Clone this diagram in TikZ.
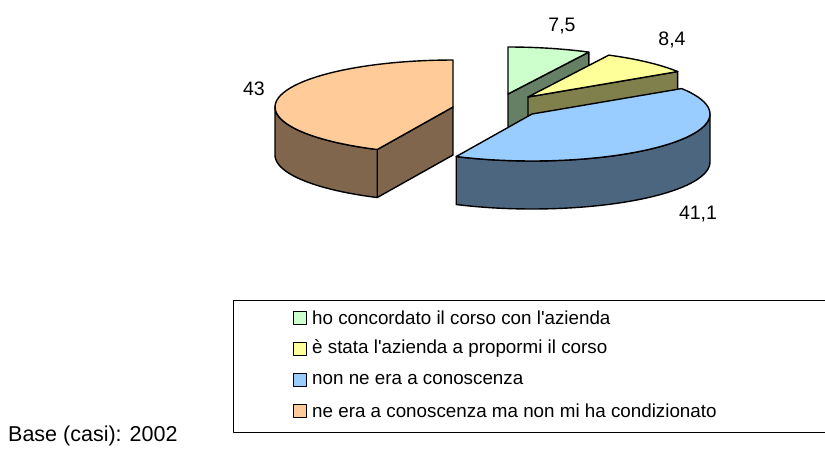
\documentclass[tikz,border=0pt]{standalone}
\usepackage{fontspec}
\newfontfamily\chartfont{Liberation Sans}
\definecolor{greentop}{RGB}{204,255,204}
\definecolor{greenside}{RGB}{102,128,102}
\definecolor{yellowtop}{RGB}{255,255,153}
\definecolor{yellowside}{RGB}{128,128,77}
\definecolor{bluetop}{RGB}{153,204,255}
\definecolor{blueside}{RGB}{77,102,128}
\definecolor{orangetop}{RGB}{255,204,153}
\definecolor{orangeside}{RGB}{128,102,77}
\newcommand{\pieA}{178}
\newcommand{\pieB}{47}
\newcommand{\pieH}{48}

\begin{document}
\begin{tikzpicture}[x=1pt,y=-1pt,line cap=round,line join=round,
  slice/.style={draw=black,line width=1.4pt},
  lbl/.style={font=\chartfont\fontsize{19.5}{22}\selectfont,inner sep=0pt},
  keytext/.style={font=\chartfont\fontsize{18.8}{22}\selectfont,inner sep=0pt},
  keybox/.style={draw=black,line width=1pt,minimum size=13pt,inner sep=0pt}]
\useasboundingbox (0,0) rectangle (825,448);

% green slice 0..27
\begin{scope}[shift={(508,94)}]
  \filldraw[slice,fill=greenside] (0,0) -- ({\pieA*sin(27)},{-\pieB*cos(27)}) -- ++(0,\pieH) -- (0,\pieH) -- cycle;
  \filldraw[slice,fill=greentop] (0,0) -- plot[domain=0:27,samples=20] ({\pieA*sin(\x)},{-\pieB*cos(\x)}) -- cycle;
\end{scope}

% yellow slice 27..57.24
\begin{scope}[shift={(528,97)}]
  \filldraw[slice,fill=yellowside] (0,0) -- ({\pieA*sin(57.24)},{-\pieB*cos(57.24)}) -- ++(0,\pieH) -- (0,\pieH) -- cycle;
  \filldraw[slice,fill=yellowtop] (0,0) -- plot[domain=27:57.24,samples=20] ({\pieA*sin(\x)},{-\pieB*cos(\x)}) -- cycle;
\end{scope}

% blue slice 57.24..205.2
\begin{scope}[shift={(532,114)}]
  \filldraw[slice,fill=blueside] plot[domain=90:205.2,samples=40] ({\pieA*sin(\x)},{-\pieB*cos(\x)})
    -- plot[domain=205.2:90,samples=40] ({\pieA*sin(\x)},{\pieH-\pieB*cos(\x)}) -- cycle;
  \filldraw[slice,fill=bluetop] (0,0) -- plot[domain=57.24:205.2,samples=50] ({\pieA*sin(\x)},{-\pieB*cos(\x)}) -- cycle;
\end{scope}

% orange slice 205.2..360
\begin{scope}[shift={(453,107)}]
  \filldraw[slice,fill=orangeside] (0,0) -- ({\pieA*sin(205.2)},{-\pieB*cos(205.2)}) -- ++(0,\pieH) -- (0,\pieH) -- cycle;
  \filldraw[slice,fill=orangeside] plot[domain=205.2:270,samples=30] ({\pieA*sin(\x)},{-\pieB*cos(\x)})
    -- plot[domain=270:205.2,samples=30] ({\pieA*sin(\x)},{\pieH-\pieB*cos(\x)}) -- cycle;
  \filldraw[slice,fill=orangetop] (0,0) -- plot[domain=205.2:360,samples=50] ({\pieA*sin(\x)},{-\pieB*cos(\x)}) -- cycle;
\end{scope}

% values
\node[lbl] (v75) at (562,26) {7,5};
\node[lbl] (v84) at (672,40) {8,4};
\node[lbl] (v43) at (254,89) {43};
\node[lbl] (v411) at (698,214) {41,1};

% legend
\draw[line width=0.8pt] (233,300) rectangle (830,432);
\foreach \c/\t [count=\i] in {greentop/{ho concordato il corso con l'azienda},
    yellowtop/{è stata l'azienda a propormi il corso},
    bluetop/{non ne era a conoscenza},
    orangetop/{ne era a conoscenza ma non mi ha condizionato}}{
  \node[keybox,fill=\c] (key\i) at (300,{318+31*(\i-1)}) {};
  \node[keytext,anchor=west] (item\i) at ([xshift=5pt]key\i.east) {\t};
}

\node[lbl,font=\chartfont\fontsize{21.5}{24}\selectfont,anchor=west] (base) at (8,436) {Base (casi): 2002};
\end{tikzpicture}
\end{document}
